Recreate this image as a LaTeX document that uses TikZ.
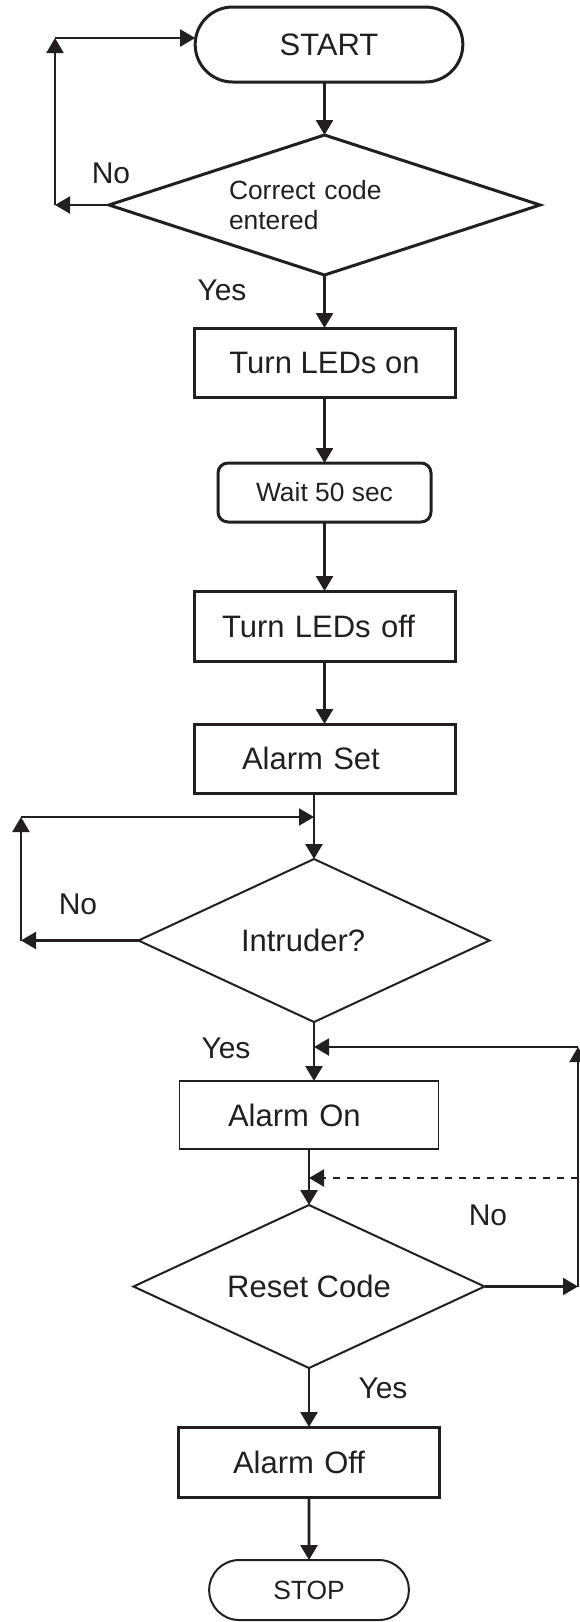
\documentclass[tikz,border=0pt]{standalone}
\usepackage{fontspec}
\setmainfont{Liberation Sans}
\usetikzlibrary{arrows.meta}
\usetikzlibrary{positioning}
\usetikzlibrary{calc}
\usetikzlibrary{shapes.geometric}
\usetikzlibrary{shapes.misc}

\definecolor{ink}{RGB}{35,31,32}

\begin{document}
\begin{tikzpicture}[
          ->, >={Triangle[length=7.5pt,width=8.5pt]},
          color=ink, line width=1.4pt,
          every node/.style={font=\fontsize{15.5}{18}\selectfont, outer sep=0pt}
        ]

          % styles
          \tikzstyle{term}=[rounded rectangle, draw, line width=1.5pt]
          \tikzstyle{decision}=[diamond, draw, inner sep=0pt, aspect=3]
          \tikzstyle{proc}=[rectangle, draw, line width=1.5pt, minimum width=130.5pt, minimum height=34.5pt]
          \tikzstyle{smalltext}=[font=\fontsize{13.2}{15}\selectfont]
          \tikzstyle{lbl}=[font=\fontsize{15}{18}\selectfont]
          \tikzstyle{back}=[->, line width=1.1pt]

          \useasboundingbox (0,0) rectangle (289.5pt,-811pt);

          % terminals, steps and tests
          \node[term, minimum width=140.5pt, minimum height=37.5pt] (start) at (164.5pt,-22.25pt) {START};
          \node[decision, smalltext, line width=1.5pt, minimum width=215.5pt, minimum height=70pt,
                align=left, text width=95.5pt, below=26.5pt of start, xshift=-2.25pt] (code) {Correct code\\entered};
          \node[proc, below=26.5pt of code] (ledson) {Turn LEDs on};
          \node[rectangle, rounded corners=5pt, draw, line width=1.5pt, minimum width=106.5pt,
                minimum height=29.5pt, smalltext, below=33pt of ledson] (wait) {Wait 50 sec};
          \node[proc, minimum height=35pt, align=left, text width=102.5pt, below=34.5pt of wait] (ledsoff) {Turn LEDs off};
          \node[proc, align=left, text width=82.5pt, below=31.5pt of ledsoff] (alarmset) {Alarm Set};
          \node[decision, line width=1pt, minimum width=175.5pt, minimum height=81.5pt,
                align=left, text width=73pt, below=33pt of alarmset, xshift=-5.25pt] (intruder) {Intruder?};
          \node[proc, line width=0.75pt, minimum width=129.5pt, minimum height=34pt,
                align=left, text width=81pt, below=29.5pt of intruder, xshift=-2.5pt] (alarmon) {Alarm On};
          \node[decision, line width=1pt, minimum width=175.5pt, minimum height=81.5pt, below=28pt of alarmon] (reset) {Reset Code};
          \node[proc, minimum height=35pt, align=left, text width=76pt, below=29.5pt of reset] (alarmoff) {Alarm Off};
          \node[term, smalltext, line width=1pt, minimum width=106.5pt, minimum height=30pt, below=31.5pt of alarmoff] (stop) {STOP};

          % main flow
          \draw (code.north |- start.south) -- (code.north);
          \draw (code) -- (ledson);
          \draw (ledson) -- (wait);
          \draw (wait) -- (ledsoff);
          \draw (ledsoff) -- (alarmset);
          \draw (alarmset.south -| intruder.north) -- (intruder.north);
          \draw (intruder) -- (intruder.south |- alarmon.north);
          \draw (alarmon) -- (reset);
          \draw (reset) -- (alarmoff);
          \draw (alarmoff) -- (stop);

          % back edges
          \coordinate (cl) at ($(code.west)+(-27pt,0)$);
          \coordinate (ct) at ($(cl |- start.west)+(0,3.25pt)$);
          \draw[back] (code.west) -- (cl);
          \draw[back] (cl) -- (ct);
          \draw[back] (ct) -- (ct -| start.west);

          \coordinate (il) at ($(intruder.west)+(-58.75pt,0)$);
          \coordinate (it) at ($(alarmset.south)+(0,-12pt)$);
          \draw[back] (intruder.west) -- (il);
          \draw[back] (il) -- (il |- it);
          \draw[back] (il |- it) -- (intruder.north |- it);

          \coordinate (rr) at ($(reset.east)+(46.75pt,0)$);
          \coordinate (rt) at ($(intruder.south)+(0,-12.5pt)$);
          \coordinate (rd) at ($(alarmon.south)+(0,-14.5pt)$);
          \draw[back] (reset.east) -- (rr);
          \draw[back] (rr) -- (rr |- rt);
          \draw[back] (rr |- rt) -- (rt);
          \draw[back, dash pattern=on 3.5pt off 3.5pt] (rr |- rd) -- (rd);

          % branch labels
          \node[lbl] (nocode) at ([shift={(1pt,16pt)}]code.west) {No};
          \node[lbl] (yescode) at ([shift={(-51.25pt,-7.5pt)}]code.south) {Yes};
          \node[lbl] (nointr) at ([shift={(-30.25pt,18.25pt)}]intruder.west) {No};
          \node[lbl] (yesintr) at ([shift={(-44pt,-13pt)}]intruder.south) {Yes};
          \node[lbl] (noreset) at ([shift={(1.75pt,35.75pt)}]reset.east) {No};
          \node[lbl] (yesreset) at ([shift={(37pt,-10pt)}]reset.south) {Yes};

        \end{tikzpicture}
\end{document}
